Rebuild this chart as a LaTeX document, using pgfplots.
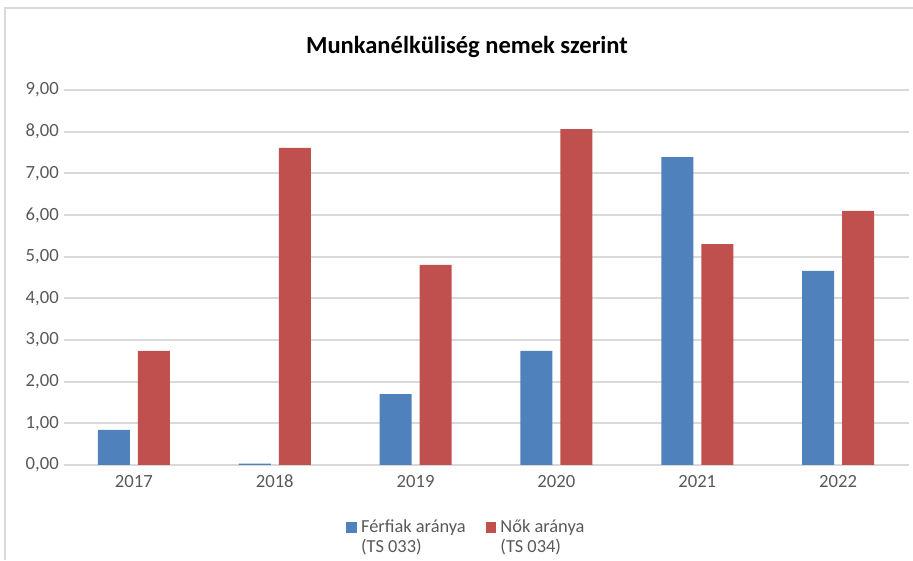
\documentclass[border=0pt]{standalone}
\usepackage{pgfplots}
\pgfplotsset{compat=1.18}
\usepackage{fontspec}
\setmainfont{Carlito}
\definecolor{cblue}{HTML}{4F81BD}
\definecolor{cred}{HTML}{C0504D}
\definecolor{cgrid}{HTML}{D9D9D9}
\definecolor{ctext}{HTML}{595959}
\pgfplotsset{sqlegend/.style={legend image code/.code={\fill[##1] (0pt,0pt) rectangle (8pt,8pt);}}}
\begin{document}
\begin{tikzpicture}
\useasboundingbox (0,0) rectangle (684.75pt,420pt);
\draw[cgrid, line width=1.2pt] (3.75pt,0pt) -- (3.75pt,414pt) -- (684.75pt,414pt);
\node[font=\fontsize{18.4}{22}\selectfont\bfseries, text=black] at (350.25pt,384.75pt) {Munkanélküliség nemek szerint};
\begin{axis}[
  at={(47.625pt,71.25pt)}, anchor=south west,
  scale only axis, width=633.75pt, height=281.25pt,
  ybar=6pt, bar width=24pt,
  xmin=-0.5, xmax=5.5, ymin=0, ymax=9,
  xtick={0,1,2,3,4,5},
  xticklabels={2017,2018,2019,2020,2021,2022},
  ytick={0,1,2,3,4,5,6,7,8,9},
  ymajorgrids, grid style={cgrid, line width=1.3pt},
  axis line style={draw=none},
  major tick length=0pt,
  tick label style={font=\fontsize{14}{16}\selectfont, text=ctext},
  xticklabel style={text height=9pt, text depth=0pt, yshift=-4pt},
  yticklabel style={/pgf/number format/fixed, /pgf/number format/fixed zerofill, /pgf/number format/precision=2, /pgf/number format/use comma, /pgf/number format/assume math mode=true},
  legend columns=2,
  legend style={at={(0.478,-0.125)}, anchor=north, draw=none, fill=none,
    font=\fontsize{13.8}{15}\selectfont, text=ctext,
    nodes={anchor=base west, inner sep=3pt},
    /tikz/every even column/.append style={column sep=12pt}},
]
\addplot[fill=cblue, draw=none, sqlegend] coordinates {(0,0.84) (1,0.03) (2,1.70) (3,2.74) (4,7.39) (5,4.66)};
\addlegendentry{\begin{tabular}[t]{@{}l@{}}Férfiak aránya\\(TS 033)\end{tabular}}
\addplot[fill=cred, draw=none, sqlegend] coordinates {(0,2.74) (1,7.61) (2,4.80) (3,8.06) (4,5.30) (5,6.10)};
\addlegendentry{\begin{tabular}[t]{@{}l@{}}Nők aránya\\(TS 034)\end{tabular}}
\end{axis}
\end{tikzpicture}
\end{document}
